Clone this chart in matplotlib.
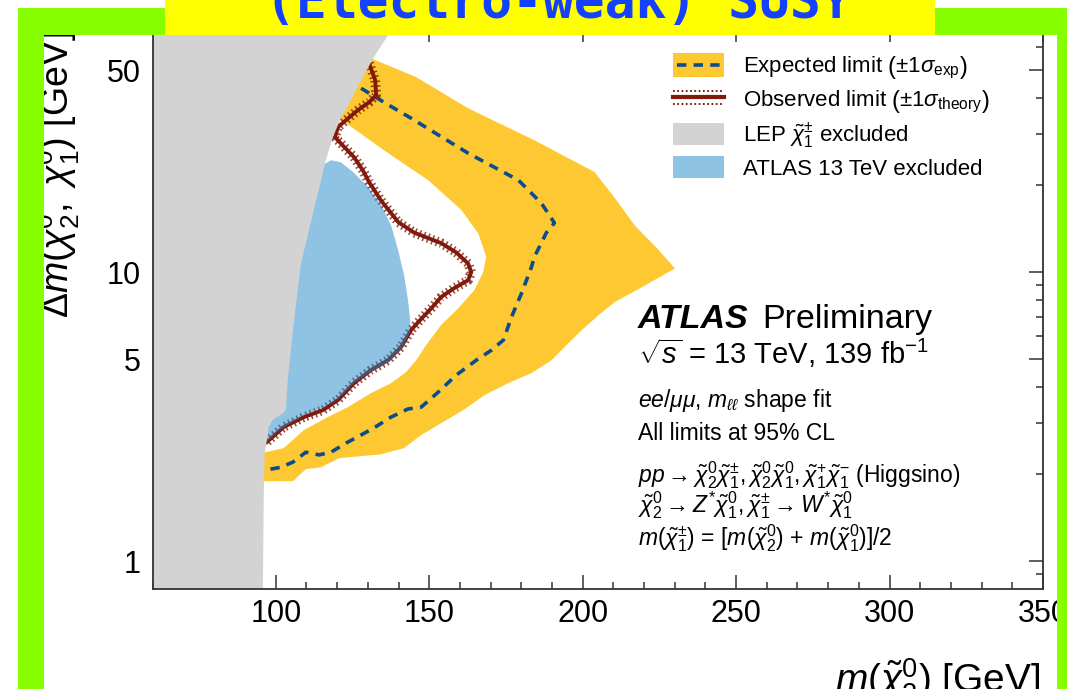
import numpy as np
import matplotlib.pyplot as plt
from matplotlib.patches import Rectangle, Polygon
from matplotlib.lines import Line2D

#---------------------------------------------------------------------#
plt.rcParams['font.family'] = ['Liberation Sans', 'DejaVu Sans']
plt.rcParams['mathtext.fontset'] = 'custom'
plt.rcParams['mathtext.rm'] = 'Liberation Sans'
plt.rcParams['mathtext.it'] = 'Liberation Sans:italic'
plt.rcParams['mathtext.bf'] = 'Liberation Sans:bold'
#---------------------------------------------------------------------#

# LEP chargino limit (right edge of the grey region), m(chi20) vs dm
lep_m = [95.8, 96.1, 96.4, 97.1, 97.7, 99.0, 102.3, 103.3, 103.9, 105.6,
         108.2, 112.4, 116.3, 118.6, 121.2, 124.5, 127.8, 132.0, 136.6, 139.5]
lep_dm = [0.79, 1.76, 2.36, 2.62, 2.91, 3.08, 3.25, 3.33, 4.23, 6.30,
          10.7, 16.4, 24.4, 29.3, 34.1, 39.4, 46.2, 55.5, 66.1, 75.0]

# previous ATLAS 13 TeV exclusion
atlas_m = [113.1, 115.4, 118.0, 121.2, 125.2, 130.1, 134.3, 137.6, 139.9, 141.8,
           143.1, 143.8, 143.8, 141.2, 137.3, 131.4, 125.8, 120.6, 116.0, 109.8,
           104.9, 100.3, 96.4, 93.5, 93.5, 108.2]
atlas_dm = [20.8, 23.5, 24.4, 24.0, 22.2, 19.7, 17.1, 14.5, 11.9, 9.77,
            8.0, 6.82, 6.20, 5.46, 4.92, 4.54, 4.16, 3.66, 3.41, 3.22,
            3.00, 2.79, 2.54, 2.54, 11.9, 20.8]

# observed limit
obs_m = [130.4, 132.4, 132.7, 130.4, 126.8, 122.9, 120.3, 119.3, 121.2, 125.5,
         128.4, 130.4, 134.3, 139.9, 145.1, 153.9, 158.8, 162.7, 163.7, 162.7,
         158.2, 153.9, 150.7, 146.4, 144.1, 140.8, 136.6, 131.0, 125.5, 120.3,
         115.4, 109.2, 102.6, 97.1]
obs_dm = [52.9, 46.2, 41.0, 38.7, 36.4, 33.6, 31.8, 29.3, 27.9, 25.0,
          22.5, 20.5, 17.7, 14.9, 13.7, 12.6, 11.7, 10.7, 10.0, 9.38,
          8.81, 8.20, 7.50, 6.71, 6.30, 5.50, 4.96, 4.58, 4.13, 3.61,
          3.33, 3.15, 2.91, 2.58]

# expected limit
exp_m = [127.8, 135.3, 144.1, 162.7, 179.1, 186.6, 190.8, 188.2, 184.3, 183.3,
         180.1, 176.8, 174.2, 170.3, 165.4, 158.8, 152.9, 147.4, 143.1, 137.6,
         132.0, 127.8, 122.9, 118.0, 114.1, 109.8, 105.6, 101.6, 96.1]
exp_dm = [43.3, 38.7, 34.1, 25.8, 20.8, 17.3, 14.8, 13.7, 11.3, 10.4,
          8.46, 6.99, 5.82, 5.37, 4.96, 4.40, 3.84, 3.41, 3.36, 3.15,
          2.89, 2.73, 2.56, 2.38, 2.33, 2.38, 2.20, 2.11, 2.06]

# +-1 sigma expected band, outer edge then inner edge
band_m = [118.0, 126.1, 131.0, 145.8, 162.7, 184.3, 203.9, 211.1, 217.0, 224.2,
          230.1, 219.3, 210.5, 205.2, 199.7, 195.4, 189.9, 183.3, 175.8, 168.0,
          161.1, 153.9, 147.4, 141.8, 134.3, 120.6, 114.7, 109.8, 105.6, 93.5,
          93.5, 96.7, 102.6, 109.2, 117.0, 123.5, 131.0, 137.6, 142.5, 145.8,
          149.0, 153.9, 159.5, 164.7, 167.6, 168.6, 166.0, 160.5, 149.7, 135.3,
          122.9]
band_dm = [34.7, 57.7, 55.0, 47.3, 36.9, 28.6, 22.2, 17.7, 14.5, 12.1,
           10.3, 8.87, 7.88, 7.10, 6.30, 5.68, 4.96, 4.47, 4.13, 3.75,
           3.33, 3.00, 2.73, 2.46, 2.34, 2.27, 2.11, 2.08, 1.89, 1.89,
           2.36, 2.38, 2.46, 2.84, 3.15, 3.41, 3.81, 4.13, 4.51, 4.96,
           5.59, 6.56, 7.50, 8.66, 10.0, 11.3, 13.6, 16.4, 20.8, 26.4,
           32.8]

x_range = (60, 350)
y_range = (0.8, 70)
y_major = [1, 5, 10, 50]
y_minor = [0.9, 2, 3, 4, 6, 7, 8, 9, 20, 30, 40, 60, 70]
x_major = [100, 150, 200, 250, 300, 350]

c_band = '#fdc832'
c_exp = '#0b4d8c'
c_obs = '#801a0c'
c_lep = '#d3d3d3'
c_atlas = '#1f89c9'
c_green = '#88ff00'

W, H = 1067, 689


def fx(px):
    return px / W


def fy(py):
    return 1 - py / H


#---------------------------------------------------------------------#
fig = plt.figure(figsize=(W / 100, H / 100), dpi=100)
fig.patch.set_facecolor('white')

ax = fig.add_axes([fx(153), fy(589), fx(1043) - fx(153), fy(28) - fy(589)])
ax.set_yscale('log')
ax.set_xlim(*x_range)
ax.set_ylim(*y_range)

# regions and limits
ax.add_patch(Polygon(np.column_stack([band_m, band_dm]), closed=True,
                     facecolor=c_band, edgecolor='none', zorder=1))
ax.plot(exp_m, exp_dm, color=c_exp, lw=2.6, ls=(0, (2.6, 2.0)),
        dash_capstyle='butt', zorder=2)
ax.plot(obs_m, obs_dm, color=c_obs, lw=7.0, ls=(0, (0.16, 0.32)),
        alpha=0.8, zorder=3)
ax.plot(obs_m, obs_dm, color=c_obs, lw=2.8, solid_joinstyle='round', zorder=3.1)
ax.add_patch(Polygon(np.column_stack([atlas_m, atlas_dm]), closed=True,
                     facecolor=c_atlas, edgecolor='none', alpha=0.5, zorder=4))
lep_x = [x_range[0]] + lep_m + [x_range[0]]
lep_y = [lep_dm[0]] + lep_dm + [lep_dm[-1]]
ax.add_patch(Polygon(np.column_stack([lep_x, lep_y]), closed=True,
                     facecolor=c_lep, edgecolor='none', zorder=5))

# axes style
for s in ax.spines.values():
    s.set_linewidth(1.3)
    s.set_color('#333333')
    s.set_zorder(10)
ax.set_xticks(x_major)
ax.set_xticks([v for v in range(60, 351, 10) if v not in x_major], minor=True)
ax.set_yticks(y_major)
ax.set_yticklabels([str(v) for v in y_major])
ax.set_yticks(y_minor, minor=True)
ax.yaxis.set_minor_formatter(plt.NullFormatter())
ax.tick_params(which='both', direction='in', top=True, right=True,
               color='#333333', width=1.1, labelsize=22)
ax.tick_params(which='major', length=10)
ax.tick_params(which='minor', length=5)
ax.tick_params(axis='x', pad=7)
ax.tick_params(axis='y', pad=9)

# axis titles
fig.text(fx(70), fy(318), r'$\Delta m(\tilde{\chi}^{0}_{2},\ \tilde{\chi}^{0}_{1})$ [GeV]',
         rotation=90, rotation_mode='anchor', ha='left', va='baseline',
         fontsize=27, zorder=2)
fig.text(fx(1040), fy(692), r'$m(\tilde{\chi}^{0}_{2})$ [GeV]',
         ha='right', va='baseline', fontsize=28, zorder=2)

# legend
fig.add_artist(Rectangle((fx(673), fy(77)), fx(724) - fx(673), fy(53) - fy(77),
                         transform=fig.transFigure, facecolor=c_band, edgecolor='none'))
fig.add_artist(Line2D([fx(677), fx(721)], [fy(65), fy(65)], transform=fig.transFigure,
                      color=c_exp, lw=2.6, ls=(0, (2.6, 2.0))))
fig.add_artist(Line2D([fx(673), fx(724)], [fy(97), fy(97)], transform=fig.transFigure,
                      color=c_obs, lw=3.0))
for yy in (91, 104):
    fig.add_artist(Line2D([fx(673), fx(724)], [fy(yy), fy(yy)], transform=fig.transFigure,
                          color=c_obs, lw=1.4, ls=(0, (0.9, 1.3))))
fig.add_artist(Rectangle((fx(673), fy(145)), fx(724) - fx(673), fy(123) - fy(145),
                         transform=fig.transFigure, facecolor=c_lep, edgecolor='none'))
fig.add_artist(Rectangle((fx(673), fy(178)), fx(724) - fx(673), fy(156) - fy(178),
                         transform=fig.transFigure, facecolor=c_atlas, alpha=0.5,
                         edgecolor='none'))
leg_labels = [r'Expected limit $\left(\pm1\sigma_{\mathrm{exp}}\right)$',
              r'Observed limit $\left(\pm1\sigma_{\mathrm{theory}}\right)$',
              r'LEP $\tilde{\chi}^{\pm}_{1}$ excluded',
              'ATLAS 13 TeV excluded']
for lab, yb in zip(leg_labels, [73, 107, 142, 175]):
    fig.text(fx(743), fy(yb), lab, ha='left', va='baseline', fontsize=16)

# ATLAS label block
fig.text(fx(638), fy(328), 'ATLAS', fontsize=24.5, weight='bold', style='italic',
         ha='left', va='baseline')
fig.text(fx(762), fy(328), 'Preliminary', fontsize=24.5, ha='left', va='baseline')
fig.text(fx(638), fy(364), r'$\sqrt{s}$ = 13 TeV, 139 fb$^{-1}$', fontsize=21,
         ha='left', va='baseline')
fig.text(fx(638), fy(407), r'$ee/\mu\mu$, $m_{\ell\ell}$ shape fit', fontsize=16.5,
         ha='left', va='baseline')
fig.text(fx(638), fy(440), 'All limits at 95% CL', fontsize=16.5,
         ha='left', va='baseline')
fig.text(fx(638), fy(482),
         r'$pp \rightarrow \tilde{\chi}^{0}_{2}\tilde{\chi}^{\pm}_{1}, '
         r'\tilde{\chi}^{0}_{2}\tilde{\chi}^{0}_{1}, \tilde{\chi}^{+}_{1}\tilde{\chi}^{-}_{1}$ (Higgsino)',
         fontsize=16.5, ha='left', va='baseline')
fig.text(fx(638), fy(512),
         r'$\tilde{\chi}^{0}_{2} \rightarrow Z^{*}\tilde{\chi}^{0}_{1}, '
         r'\tilde{\chi}^{\pm}_{1} \rightarrow W^{*}\tilde{\chi}^{0}_{1}$',
         fontsize=16.5, ha='left', va='baseline')
fig.text(fx(638), fy(545),
         r'$m(\tilde{\chi}^{\pm}_{1})$ = [$m(\tilde{\chi}^{0}_{2})$ + $m(\tilde{\chi}^{0}_{1})$]/2',
         fontsize=16.5, ha='left', va='baseline')

# slide frame and title banner
for (x0, y0, x1, y1) in [(18, 8, 44, H), (18, 8, W, 35), (1057, 8, W, H)]:
    fig.add_artist(Rectangle((fx(x0), fy(y1)), fx(x1) - fx(x0), fy(y0) - fy(y1),
                             transform=fig.transFigure, facecolor=c_green,
                             edgecolor='none', zorder=10))
fig.add_artist(Rectangle((fx(165), fy(35)), fx(935) - fx(165), fy(0) - fy(35),
                         transform=fig.transFigure, facecolor='#ffff00',
                         edgecolor='none', zorder=11))
fig.text(fx(558), fy(18), '(Electro-weak) SUSY', family='DejaVu Sans Mono',
         weight='bold', fontsize=37, color='#1440ff', ha='center', va='baseline',
         zorder=12)

fig.savefig('out.png', dpi=100)
